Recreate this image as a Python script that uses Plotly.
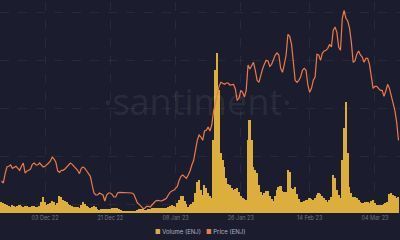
import pandas as pd
import plotly.graph_objects as go

# 12-hour samples, 21 Nov 2022 .. 10 Mar 2023
dates = pd.date_range("2022-11-21 00:00", periods=220, freq="12h")

price = [
    0.284, 0.281, 0.295, 0.305, 0.306, 0.308, 0.303, 0.305, 0.306, 0.303,
    0.300, 0.306, 0.311, 0.296, 0.299, 0.300, 0.302, 0.309, 0.311, 0.308,
    0.308, 0.311, 0.308, 0.305, 0.306, 0.308, 0.311, 0.314, 0.320, 0.317,
    0.312, 0.299, 0.297, 0.300, 0.300, 0.302, 0.305, 0.308, 0.311, 0.309,
    0.306, 0.303, 0.300, 0.295, 0.303, 0.305, 0.303, 0.299, 0.295, 0.291,
    0.278, 0.266, 0.263, 0.263, 0.266, 0.264, 0.263, 0.254, 0.263, 0.266,
    0.266, 0.264, 0.260, 0.260, 0.266, 0.267, 0.267, 0.267, 0.266, 0.266,
    0.266, 0.266, 0.266, 0.264, 0.257, 0.251, 0.249, 0.245, 0.243, 0.243,
    0.246, 0.246, 0.245, 0.248, 0.252, 0.254, 0.255, 0.254, 0.254, 0.255,
    0.257, 0.258, 0.263, 0.267, 0.269, 0.270, 0.273, 0.276, 0.285, 0.291,
    0.293, 0.291, 0.288, 0.293, 0.299, 0.308, 0.315, 0.330, 0.345, 0.353,
    0.350, 0.345, 0.359, 0.360, 0.365, 0.359, 0.368, 0.389, 0.401, 0.413,
    0.426, 0.432, 0.431, 0.429, 0.431, 0.431, 0.428, 0.429, 0.429, 0.422,
    0.405, 0.408, 0.420, 0.417, 0.410, 0.420, 0.458, 0.452, 0.456, 0.462,
    0.450, 0.435, 0.432, 0.443, 0.452, 0.459, 0.465, 0.464, 0.456, 0.459,
    0.467, 0.473, 0.476, 0.473, 0.453, 0.447, 0.459, 0.473, 0.504, 0.501,
    0.489, 0.458, 0.435, 0.432, 0.435, 0.440, 0.450, 0.453, 0.450, 0.428,
    0.417, 0.423, 0.435, 0.440, 0.474, 0.473, 0.465, 0.476, 0.479, 0.480,
    0.483, 0.489, 0.485, 0.510, 0.515, 0.507, 0.485, 0.480, 0.528, 0.540,
    0.528, 0.524, 0.513, 0.492, 0.462, 0.464, 0.474, 0.479, 0.473, 0.470,
    0.462, 0.468, 0.468, 0.459, 0.443, 0.423, 0.426, 0.426, 0.423, 0.420,
    0.420, 0.411, 0.419, 0.429, 0.423, 0.411, 0.401, 0.390, 0.372, 0.345,
]

# volume, millions of ENJ
volume = [
    11, 10, 9, 8, 7, 6, 8, 7, 6, 7,
    8, 7, 6, 7, 7, 6, 6, 7, 7, 6,
    6, 7, 11, 16, 11, 8, 9, 10, 12, 11,
    8, 10, 17, 16, 13, 12, 11, 9, 8, 7,
    6, 6, 6, 5, 8, 11, 9, 7, 6, 5,
    6, 7, 6, 4, 3, 4, 4, 4, 4, 4,
    4, 5, 5, 5, 5, 4, 3, 2, 2, 2,
    2, 2, 2, 2, 2, 3, 4, 4, 4, 3,
    3, 4, 4, 5, 5, 5, 5, 5, 5, 5,
    5, 5, 6, 7, 8, 7, 6, 10, 13, 17,
    17, 12, 9, 6, 8, 9, 11, 20, 31, 33,
    23, 18, 28, 25, 20, 17, 15, 73, 143, 160,
    123, 60, 53, 46, 35, 29, 28, 25, 23, 24,
    25, 21, 17, 15, 14, 13, 73, 93, 73, 46,
    43, 40, 28, 21, 18, 20, 22, 22, 17, 14,
    12, 17, 23, 26, 27, 22, 21, 21, 43, 41,
    25, 24, 26, 19, 14, 11, 11, 12, 13, 13,
    15, 14, 13, 15, 18, 20, 19, 17, 15, 13,
    11, 13, 16, 38, 35, 23, 18, 15, 53, 85,
    111, 60, 26, 20, 16, 16, 15, 13, 11, 10,
    10, 11, 11, 10, 12, 13, 10, 8, 8, 8,
    8, 9, 10, 11, 19, 20, 18, 17, 15, 16,
]

tick_vals = ["2022-12-03", "2022-12-21", "2023-01-08", "2023-01-26", "2023-02-14", "2023-03-04"]
tick_text = ["03 Dec 22", "21 Dec 22", "08 Jan 23", "26 Jan 23", "14 Feb 23", "04 Mar 23"]

BG = "#1b1d2e"
VOL_C = "#dcae3b"
PRICE_C = "#ec7a4a"
GRID = "rgba(255,255,255,0.06)"

fig = go.Figure()
fig.add_trace(go.Bar(x=dates, y=volume, name="Volume (ENJ)", marker=dict(color=VOL_C, line=dict(width=0)),
                     yaxis="y"))
fig.add_trace(go.Scatter(x=dates, y=price, name="Price (ENJ)", mode="lines",
                         line=dict(color=PRICE_C, width=1.2), yaxis="y2"))

fig.update_layout(
    width=400, height=240,
    margin=dict(l=0, r=0, t=2, b=27),
    paper_bgcolor=BG, plot_bgcolor=BG,
    showlegend=False,
    bargap=0,
    xaxis=dict(
        range=["2022-11-20 14:00", "2023-03-10 22:00"],
        tickvals=tick_vals, ticktext=tick_text,
        tickfont=dict(family="Inter", size=5.5, color="#6f7387"),
        showgrid=True, gridcolor=GRID, griddash="dash", gridwidth=1,
        showline=False, zeroline=False, ticks="", ticklabelstandoff=0,
    ),
    yaxis=dict(
        range=[0, 211], showticklabels=False, zeroline=False,
        showgrid=True, gridcolor=GRID, griddash="dash", tick0=9, dtick=48,
    ),
    yaxis2=dict(
        range=[0.236, 0.5525], overlaying="y", showticklabels=False,
        showgrid=False, zeroline=False,
    ),
    annotations=[
        dict(text="·santiment·", x=0.4925, y=0.53, xref="paper", yref="paper",
             showarrow=False, font=dict(family="Open Sans", size=36, color="rgba(255,255,255,0.08)")),
        dict(text=f"<span style='color:{VOL_C}'>■</span> Volume (ENJ)   "
                  f"<span style='color:{PRICE_C}'>■</span> Price (ENJ)",
             x=0.5, y=-0.087, xref="paper", yref="paper", xanchor="center", yanchor="middle",
             showarrow=False, font=dict(family="Inter", size=6, color="#aeb2c2")),
    ],
)

fig.write_html("out.html")
